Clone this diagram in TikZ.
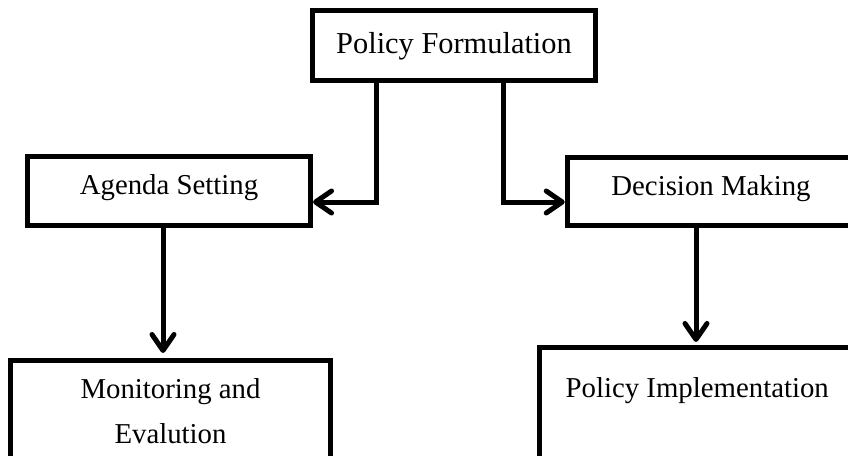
\documentclass[tikz,border=0pt]{standalone}
\usepackage{fontspec}
\setmainfont{Liberation Serif}
\usetikzlibrary{arrows.meta}
\begin{document}
\begin{tikzpicture}[x=0.5pt,y=-0.5pt,
  box/.style={draw=black, line width=2.5pt, rectangle, inner sep=0pt, fill=white,
    font=\fontsize{14.4pt}{22.5pt}\selectfont},
  conn/.style={line width=2.5pt, -{Straight Barb[length=8pt,width=11pt,round]}}]
\useasboundingbox (0,0) rectangle (848,456);
\clip (0,0) rectangle (848,456);
\node[box, minimum width=141.5pt, minimum height=35pt, text height=11pt, text depth=3.5pt,
  font=\fontsize{15.2pt}{18pt}\selectfont] (pf) at (454,45.5) {Policy Formulation};
\node[box, minimum width=141.5pt, minimum height=34.5pt, text height=10pt, text depth=7pt]
  (as) at (169,191) {Agenda Setting};
\node[box, minimum width=143.75pt, minimum height=34pt, text height=10pt, text depth=6.5pt]
  (dm) at (711,191.5) {Decision Making};
\node[box, minimum width=160pt, minimum height=48.75pt, text height=10pt, text depth=21.25pt]
  (me) at (170.5,409.25) {\begin{tabular}[t]{@{}c@{}}Monitoring and\\Evalution\end{tabular}};
\node[box, minimum width=157.75pt, minimum height=55.25pt, text height=10pt, text depth=15.75pt]
  (pi) at (697.25,402.75) {Policy Implementation};
\coordinate (pfl) at ([xshift=-39pt]pf.south);
\coordinate (pfr) at ([xshift=24.5pt]pf.south);
\coordinate (ase) at ([yshift=-5.5pt]as.east);
\coordinate (dmw) at ([yshift=-5.25pt]dm.west);
\coordinate (asx) at ([xshift=-3pt]as.south);
\coordinate (dmx) at ([xshift=-7.5pt]dm.south);
\draw[conn] (pfl) |- (ase);
\draw[conn] (pfr) |- (dmw);
\draw[conn, shorten >=2.5pt] (asx) -- (asx |- me.north);
\draw[conn, shorten >=1.5pt] (dmx) -- (dmx |- pi.north);
\end{tikzpicture}
\end{document}
